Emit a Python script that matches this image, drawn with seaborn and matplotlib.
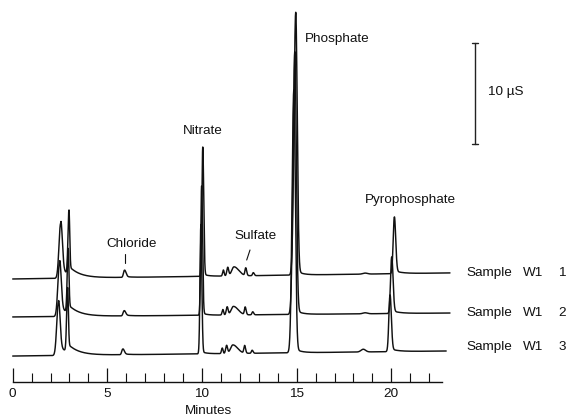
import numpy as np
import pandas as pd
import matplotlib
matplotlib.use("Agg")
import matplotlib.pyplot as plt
import seaborn as sns

W, H = 569, 419

# injections of sample W1
samples = ["1", "2", "3"]

# retention times (min) of the resolved peaks, one list per injection
rt_1 = [2.53, 2.97, 5.90, 10.04, 11.13, 11.36, 11.69, 12.31, 12.71, 14.95, 18.62, 20.16]
rt_2 = [2.47, 2.93, 5.88, 9.98, 11.10, 11.33, 11.66, 12.28, 12.68, 14.90, 18.62, 20.02]
rt_3 = [2.41, 2.90, 5.81, 9.94, 11.07, 11.30, 11.63, 12.25, 12.65, 14.85, 18.52, 19.93]

# peak heights (µS above baseline)
ht_1 = [5.4, 6.3, 0.70, 12.8, 0.60, 0.85, 0.90, 0.75, 0.30, 26.0, 0.10, 5.6]
ht_2 = [5.3, 6.3, 0.50, 12.8, 0.55, 0.80, 0.85, 0.75, 0.30, 26.0, 0.10, 5.6]
ht_3 = [5.2, 6.3, 0.55, 12.8, 0.55, 0.80, 0.85, 0.75, 0.30, 26.0, 0.27, 5.6]

# leading / trailing half-widths of each peak (min)
sig_lead = [0.085, 0.05, 0.05, 0.045, 0.04, 0.05, 0.12, 0.04, 0.04, 0.09, 0.12, 0.06]
sig_trail = [0.085, 0.04, 0.08, 0.05, 0.04, 0.05, 0.25, 0.05, 0.05, 0.08, 0.12, 0.07]

# exponential tailing behind each peak: amplitude (µS) and decay (min)
tail_amp = [1.0, 0.8, 0.10, 0.25, 0.0, 0.0, 0.0, 0.0, 0.0, 0.5, 0.0, 0.3]
tail_tau = [0.5, 0.6, 0.3, 0.25, 0.3, 0.3, 0.3, 0.3, 0.3, 0.3, 0.3, 0.4]

# baseline at injection and at end of run (µS), run length (min)
base_start = [10.2, 6.44, 2.57]
base_end = [10.8, 6.83, 3.07]
run_end = [23.1, 23.1, 22.9]

retention = [rt_1, rt_2, rt_3]
heights = [ht_1, ht_2, ht_3]


def chromatogram(t, rts, hts, b0, b1, t_end):
    y = b0 + (b1 - b0) * t / t_end
    for rt, h, sl, sr, ta, tt in zip(rts, hts, sig_lead, sig_trail, tail_amp, tail_tau):
        s = np.where(t < rt, sl, sr)
        y = y + h * np.exp(-0.5 * ((t - rt) / s) ** 2)
        if ta > 0:
            dt = np.clip(t - rt, 0, None)
            y = y + ta * (1 - np.exp(-dt / 0.04)) * np.exp(-dt / tt)
    return y


frames = []
for name, rts, hts, b0, b1, t_end in zip(samples, retention, heights,
                                         base_start, base_end, run_end):
    t = np.linspace(0, t_end, 5000)
    frames.append(pd.DataFrame({"Minutes": t,
                                "signal": chromatogram(t, rts, hts, b0, b1, t_end),
                                "sample": name}))
df = pd.concat(frames, ignore_index=True)

sns.set_theme(style="white")
plt.rcParams["font.family"] = ["Liberation Sans", "DejaVu Sans"]

# pixel <-> data mapping for the full-figure axes
X0_PX, PX_PER_MIN = 12.7, 18.93
Y0_PX, PX_PER_US = 382.0, 10.1


def px_x(px):
    return (px - X0_PX) / PX_PER_MIN


def px_y(py):
    return (Y0_PX - py) / PX_PER_US


fig = plt.figure(figsize=(W / 100, H / 100), dpi=100)
ax = fig.add_axes([0, 0, 1, 1])
ax.set_xlim(px_x(0), px_x(W))
ax.set_ylim(px_y(H), px_y(0))

sns.lineplot(data=df, x="Minutes", y="signal", hue="sample",
             palette=["#111111"] * 3, legend=False, estimator=None,
             sort=False, linewidth=1.05, ax=ax)
ax.set_xlabel("")
ax.set_ylabel("")

# time axis
for side in ("left", "right", "top"):
    ax.spines[side].set_visible(False)
ax.spines["bottom"].set_position(("data", 0))
ax.spines["bottom"].set_bounds(0, 22.7)
ax.spines["bottom"].set_linewidth(1.0)
ax.spines["bottom"].set_color("#111111")
ax.set_yticks([])
ax.set_xticks(range(0, 21, 5))
ax.set_xticks(range(0, 23), minor=True)
ax.tick_params(axis="x", which="major", direction="in", length=10.4, width=0.9,
               pad=4, labelsize=9.7, colors="#111111", bottom=True)
ax.tick_params(axis="x", which="minor", direction="in", length=6.5, width=0.8,
               bottom=True, colors="#111111")

txt = dict(fontsize=9.7, color="#111111")


def label(px, py, s, ha="center"):
    ax.text(px_x(px), px_y(py), s, ha=ha, va="center", **txt)


label(209, 411, "Minutes")
label(131.7, 244, "Chloride")
label(203, 131, "Nitrate")
label(255.5, 236, "Sulfate")
label(337.5, 39, "Phosphate")
label(410.5, 200, "Pyrophosphate")
label(488, 92, "10 µS", ha="left")

# peak pointers
ax.plot([px_x(125), px_x(125)], [px_y(254), px_y(263)], color="#111111", lw=0.8)
ax.plot([px_x(250), px_x(246.7)], [px_y(250), px_y(260)], color="#111111", lw=0.8)

# 10 µS scale bar
ax.plot([px_x(475), px_x(475)], [px_y(43), px_y(144)], color="#222222", lw=1.0)
for py in (43, 144):
    ax.plot([px_x(472), px_x(478)], [px_y(py), px_y(py)], color="#222222", lw=1.0)

# trace labels
for name, py in zip(samples, [273, 313, 347]):
    label(466, py, "Sample", ha="left")
    label(523, py, "W1", ha="left")
    label(562, py, name)

fig.savefig("out.png", dpi=100)
